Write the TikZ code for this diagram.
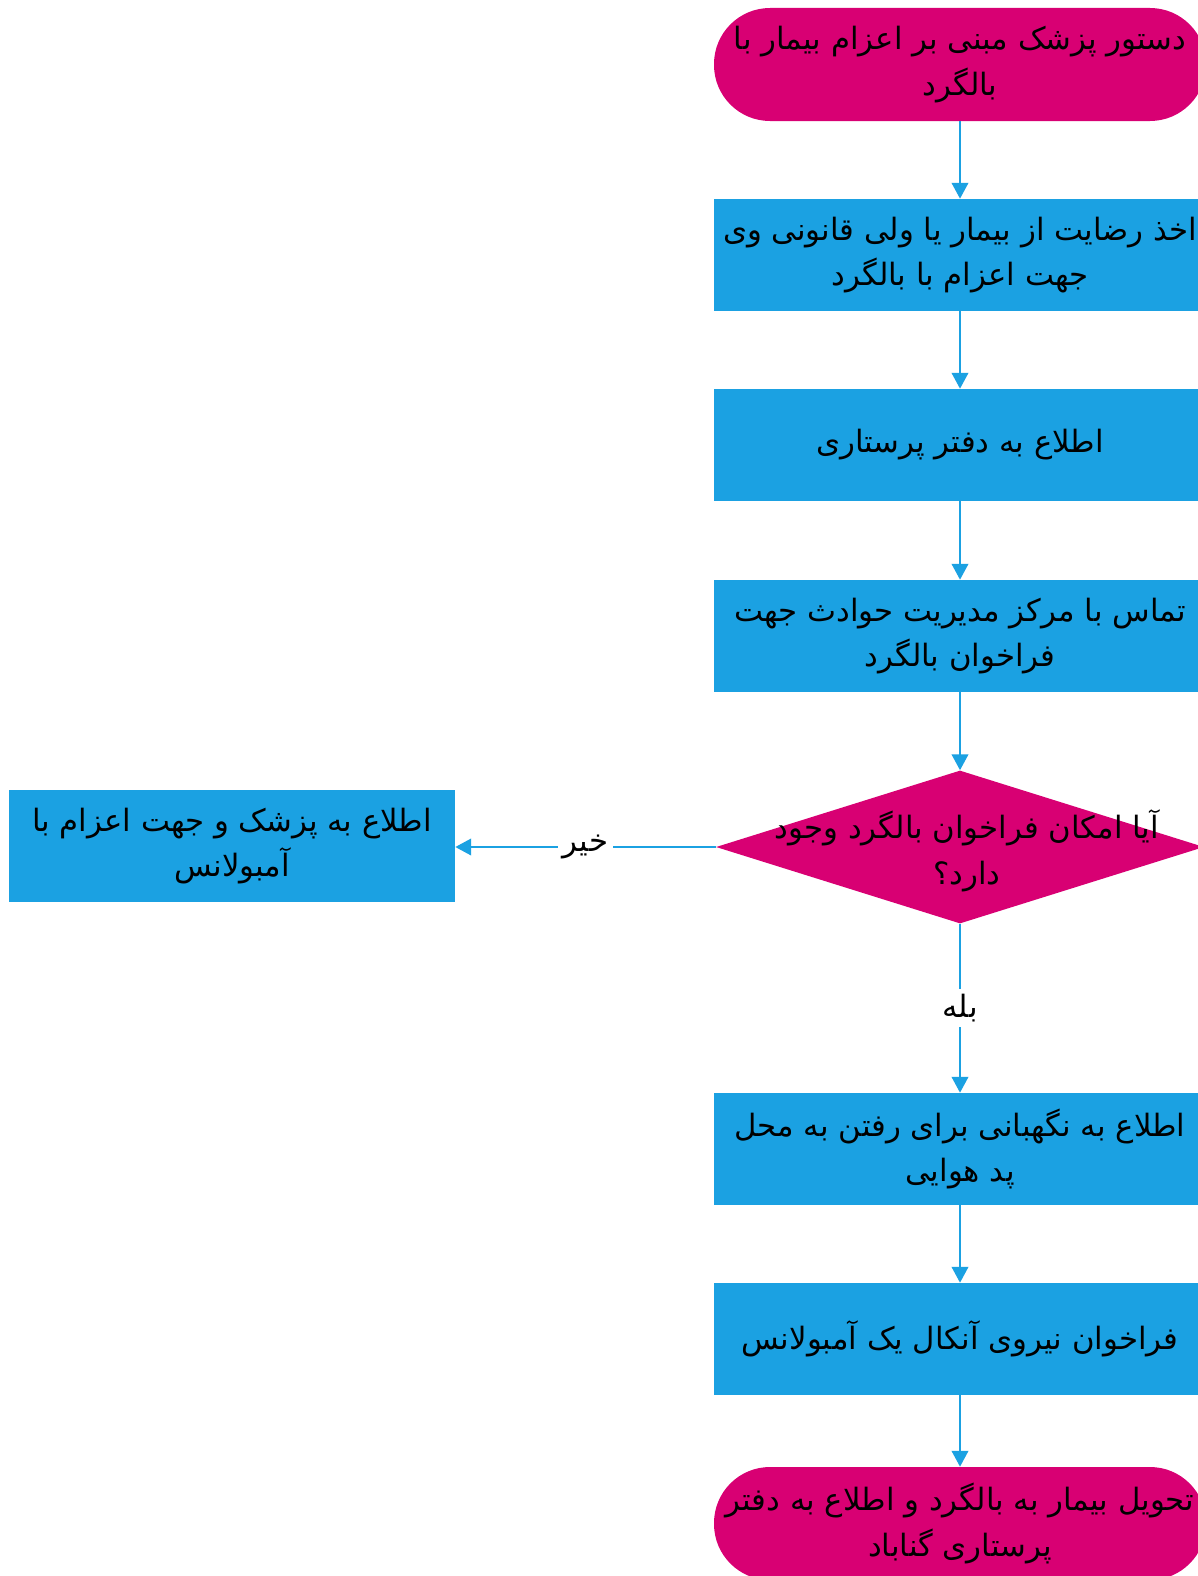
\documentclass[tikz,border=0pt]{standalone}
\usepackage{fontspec}
\newfontfamily\arabicfont[Script=Arabic]{DejaVu Sans}
\TeXXeTstate=1
\usetikzlibrary{shapes.geometric,arrows.meta}
\definecolor{flowpink}{HTML}{D80073}
\definecolor{flowblue}{HTML}{1BA1E2}
\newcommand{\fatext}[1]{\beginR #1\endR}

\begin{document}
\begin{tikzpicture}[
	fatype/.style={font=\arabicfont\fontsize{17.5}{26}\selectfont, text=black, align=center},
	terminal/.style={rectangle, rounded corners=1.12cm, fill=flowpink, minimum width=9.84cm, minimum height=2.26cm, inner sep=0pt, fatype},
	process/.style={rectangle, fill=flowblue, minimum width=9.84cm, minimum height=2.24cm, inner sep=0pt, fatype},
	decision/.style={diamond, fill=flowpink, minimum width=9.76cm, minimum height=3.06cm, inner sep=0pt},
	flowarrow/.style={draw=flowblue, line width=0.9pt, -{Triangle[width=9.5pt,length=9pt]}},
	arrowlabel/.style={fill=white, inner sep=3pt, fatype}
	]
	\useasboundingbox (0,0) rectangle (23.96,-31.52);
	\fill[white] (0,0) rectangle (23.96,-31.52);

	% main column
	\node[terminal] (order) at (19.20,-1.29) {\fatext{دستور پزشک مبنی بر اعزام بیمار با}\\ \fatext{بالگرد}};
	\node[process] (consent) at (19.20,-5.10) {\fatext{اخذ رضایت از بیمار یا ولی قانونی وی}\\ \fatext{جهت اعزام با بالگرد}};
	\node[process] (office) at (19.20,-8.90) {\fatext{اطلاع به دفتر پرستاری}};
	\node[process] (contact) at (19.20,-12.72) {\fatext{تماس با مرکز مدیریت حوادث جهت}\\ \fatext{فراخوان بالگرد}};
	\node[decision] (avail) at (19.20,-16.94) {};
	\node[fatype] (availtext) at (19.34,-17.02) {\fatext{آیا امکان فراخوان بالگرد وجود}\\ \fatext{دارد؟}};
	\node[process] (guard) at (19.20,-22.98) {\fatext{اطلاع به نگهبانی برای رفتن به محل}\\ \fatext{پد هوایی}};
	\node[process] (oncall) at (19.20,-26.78) {\fatext{فراخوان نیروی آنکال یک آمبولانس}};
	\node[terminal] (handover) at (19.20,-30.47) {\fatext{تحویل بیمار به بالگرد و اطلاع به دفتر}\\ \fatext{پرستاری گناباد}};

	% side branch
	\node[process, minimum width=8.92cm] (ambulance) at (4.64,-16.92) {\fatext{اطلاع به پزشک و جهت اعزام با}\\ \fatext{آمبولانس}};

	\draw[flowarrow] (order) -- (consent);
	\draw[flowarrow] (consent) -- (office);
	\draw[flowarrow] (office) -- (contact);
	\draw[flowarrow] (contact) -- (avail);
	\draw[flowarrow] (avail.west) -- node[arrowlabel] {\fatext{خیر}} (ambulance.east |- avail.west);
	\draw[flowarrow] (avail.south) -- node[arrowlabel] {\fatext{بله}} (guard.north);
	\draw[flowarrow] (guard) -- (oncall);
	\draw[flowarrow] (oncall) -- (handover);
\end{tikzpicture}
\end{document}
